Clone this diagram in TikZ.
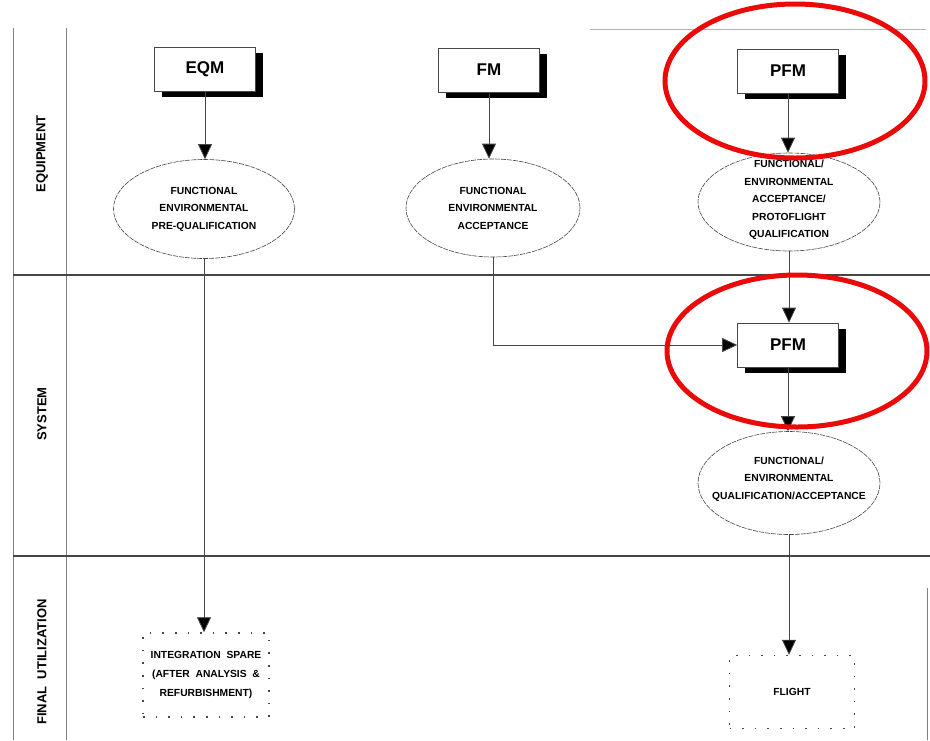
\documentclass[tikz,border=0pt]{standalone}
\usepackage{fontspec}
\setmainfont{Liberation Sans}
\usetikzlibrary{arrows.meta,shapes.geometric,shadows}
\definecolor{redmark}{RGB}{235,10,10}
\definecolor{linegray}{RGB}{70,70,70}
\tikzset{
  modelbox/.style={draw=linegray, line width=0.6pt, fill=white, minimum width=101pt, minimum height=44pt,
    inner sep=0pt, font=\bfseries\fontsize{17}{20}\selectfont,
    drop shadow={shadow xshift=7pt, shadow yshift=-6pt, fill=black, opacity=1}},
  testell/.style={ellipse, draw=linegray, line width=0.6pt, dash pattern=on 5pt off 1pt, inner sep=0pt},
  elltext/.style={align=center, inner sep=0pt, font=\bfseries\fontsize{10.3}{17.5}\selectfont},
  usebox/.style={draw=linegray, line width=1.4pt, dash pattern=on 1.6pt off 11pt, inner sep=0pt,
    align=center, font=\bfseries\fontsize{10.3}{19}\selectfont},
  lanelabel/.style={rotate=90, font=\bfseries\fontsize{13}{15}\selectfont},
  flow/.style={draw=linegray, line width=0.8pt, -{Triangle[length=15pt,width=14pt,fill=black]}},
  divider/.style={draw=linegray, line width=1.6pt},
  laneline/.style={draw=gray, line width=1pt},
  highlight/.style={draw=redmark, line width=5pt}
}
\begin{document}
\begin{tikzpicture}[x=1pt,y=-1pt]
\useasboundingbox (0,0) rectangle (930,740);
\fill[white] (0,0) rectangle (930,740);

% lane frame
\draw[laneline] (13,28) -- (13,740);
\draw[laneline] (66,28) -- (66,740);
\draw[draw=gray!60, line width=0.6pt] (590,29) -- (926,29);
\draw[laneline] (927,588) -- (927,740);
\draw[divider] (13,275) -- (930,275);
\draw[divider] (13,556) -- (930,556);

% lane labels
\node[lanelabel] (lequip) at (42,154) {EQUIPMENT};
\node[lanelabel] (lsys) at (42,414) {SYSTEM};
\node[lanelabel] (lfinal) at (42,662) {FINAL\ \ UTILIZATION};

% model boxes
\node[modelbox] (eqm) at (205,69) {EQM};
\node[modelbox] (fm) at (489,70) {FM};
\node[modelbox] (pfm) at (788,71) {PFM};
\node[modelbox] (pfms) at (788,345) {PFM};

% test ellipses
\node[testell, minimum width=181pt, minimum height=99pt] (e1) at (204,209) {};
\node[elltext] (t1) at (e1.center) {FUNCTIONAL\\ENVIRONMENTAL\\PRE-QUALIFICATION};
\node[testell, minimum width=174pt, minimum height=98pt] (e2) at (493,208) {};
\node[elltext] (t2) at (e2.center) {FUNCTIONAL\\ENVIRONMENTAL\\ACCEPTANCE};
\node[testell, minimum width=182pt, minimum height=98pt] (e3) at (789,202) {};
\node[elltext] (t3) at (789,200) {FUNCTIONAL/\\ENVIRONMENTAL\\ACCEPTANCE/\\PROTOFLIGHT\\QUALIFICATION};
\node[testell, minimum width=182pt, minimum height=103pt] (e4) at (789,483) {};
\node[elltext] (t4) at (789,479) {FUNCTIONAL/\\ENVIRONMENTAL\\QUALIFICATION/ACCEPTANCE};

% final utilization boxes
\node[usebox, minimum width=126pt, minimum height=84pt] (spare) at (206,675)
  {INTEGRATION\ \ SPARE\\(AFTER\ \ ANALYSIS\ \ \&\\REFURBISHMENT)};
\node[usebox, minimum width=125pt, minimum height=73pt] (flight) at (792,692) {FLIGHT};

% connectors
\draw[flow] (eqm.south) -- (eqm.south |- e1.north);
\draw[flow] (fm.south) -- (fm.south |- e2.north);
\draw[flow] (pfm.south) -- (pfm.south |- e3.north);
\draw[flow] (e3.south) -- (e3.south |- pfms.north);
\draw[flow] (pfms.south) -- (pfms.south |- e4.north);
\draw[flow] (e2.south) |- (pfms.west);
\draw[flow] (e1.south) -- (e1.south |- spare.north);
\draw[flow] (e4.south) -- (e4.south |- flight.north);

% red highlight marks
\draw[highlight] (795,81) ellipse [x radius=130pt, y radius=77pt];
\draw[highlight] (797,351) ellipse [x radius=130pt, y radius=76pt];
\end{tikzpicture}
\end{document}
